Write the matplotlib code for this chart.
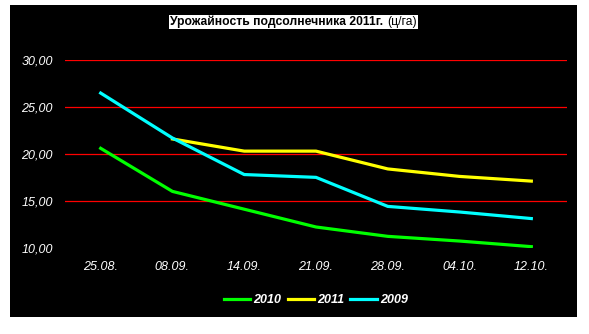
import matplotlib.pyplot as plt
from matplotlib.patches import Rectangle

# Data
dates = ['25.08.', '08.09.', '14.09.', '21.09.', '28.09.', '04.10.', '12.10.']
yield_2010 = [20.6, 16.0, 14.1, 12.2, 11.2, 10.7, 10.1]
yield_2011 = [None, 21.6, 20.3, 20.3, 18.4, 17.6, 17.1]
yield_2009 = [26.5, 21.7, 17.8, 17.5, 14.4, 13.8, 13.1]
y_ticks = [10, 15, 20, 25, 30]

fig = plt.figure(figsize=(5.89, 3.34), dpi=100, facecolor='white')

# Black chart area with a white border around it
fig.patches.append(Rectangle((10 / 589, 1 - 317 / 334), 567 / 589, 312 / 334,
                             transform=fig.transFigure, facecolor='black',
                             edgecolor='none', zorder=-5))

ax = fig.add_axes([0.110, 0.2587, 0.853, 0.5608])
ax.set_facecolor('black')

x = list(range(len(dates)))
x11 = [i for i, v in zip(x, yield_2011) if v is not None]
v11 = [v for v in yield_2011 if v is not None]

ax.plot(x, yield_2010, color='#00ff00', lw=2.3, label='2010', zorder=3)
ax.plot(x11, v11, color='#ffff00', lw=2.3, label='2011', zorder=3)
ax.plot(x, yield_2009, color='#00ffff', lw=2.3, label='2009', zorder=4)

ax.set_xlim(-0.5, len(dates) - 0.5)
ax.set_ylim(10, 30)
ax.set_xticks(x)
ax.set_xticklabels(dates)
ax.set_yticks(y_ticks)
ax.set_yticklabels(['%d,00' % t for t in y_ticks])

# Red horizontal gridlines (none at the bottom value)
for t in y_ticks[1:]:
    ax.axhline(t, color='red', lw=0.9, zorder=1)

for s in ax.spines.values():
    s.set_visible(False)
ax.tick_params(length=0, colors='white', labelsize=9)
for lab in ax.get_xticklabels() + ax.get_yticklabels():
    lab.set_family('Liberation Sans')
    lab.set_style('italic')
    lab.set_color('white')
ax.tick_params(axis='x', pad=10)
ax.tick_params(axis='y', pad=8.5)

# Title in a white box: bold part + normal units
ty = 1 - 22 / 334
t1 = fig.text(0.5, ty, 'Урожайность подсолнечника 2011г. ', ha='left',
              va='center', fontsize=8.7, fontweight='bold', family='Liberation Sans',
              color='black', zorder=5)
t2 = fig.text(0, ty, '(ц/га)', fontsize=8.7, family='Liberation Sans', color='black',
              va='center', zorder=5)
fig.canvas.draw()
w1 = t1.get_window_extent().width
w2 = t2.get_window_extent().width
total = w1 + w2
left = 293.5 - total / 2
t1.set_position((left / 589, ty))
t2.set_position(((left + w1) / 589, ty))
fig.patches.append(Rectangle(((left - 1) / 589, 1 - 29 / 334), (total + 2) / 589, 14 / 334,
                             transform=fig.transFigure, facecolor='white',
                             edgecolor='none', zorder=1))

leg = ax.legend(loc='center', bbox_to_anchor=(0.5, (300 - 247.6) / -187.3), ncol=3,
                frameon=False, handlelength=2.1, columnspacing=0.5, handletextpad=0.25,
                prop={'family': 'Liberation Sans', 'weight': 'bold', 'style': 'italic',
                      'size': 9})
for txt in leg.get_texts():
    txt.set_color('white')

fig.savefig('out.png', dpi=100, facecolor='white')
